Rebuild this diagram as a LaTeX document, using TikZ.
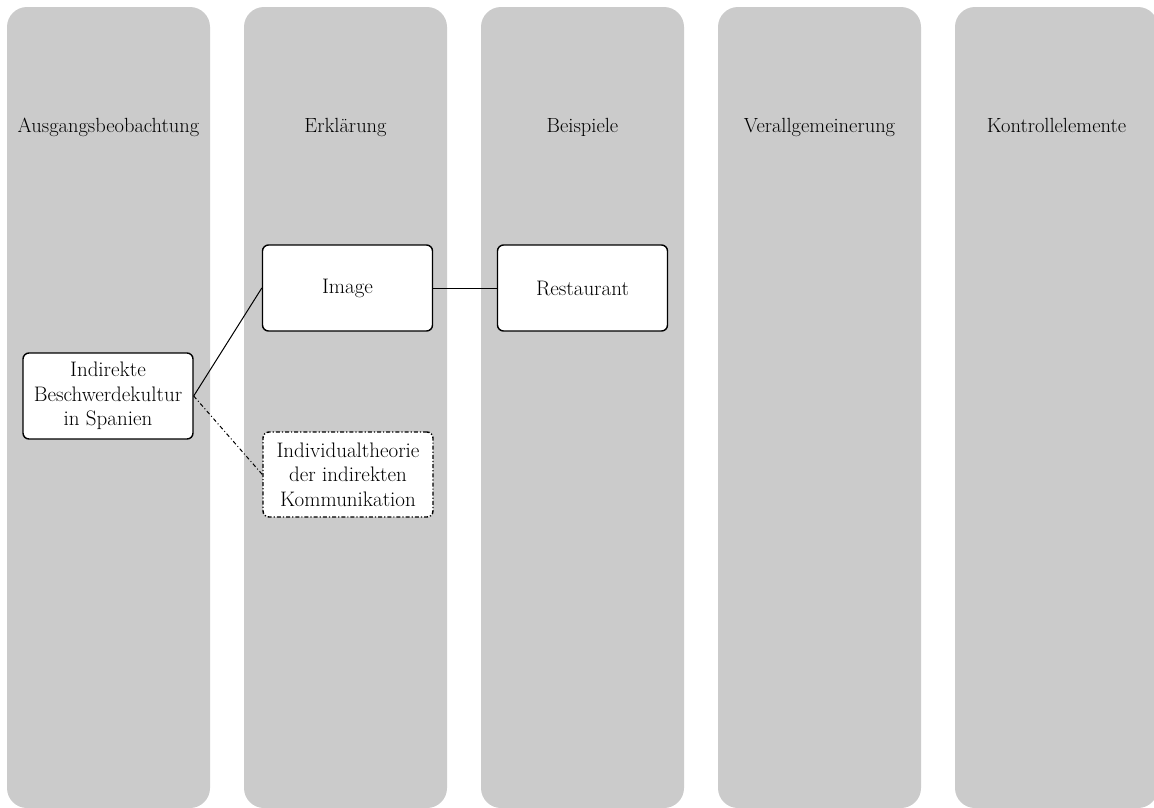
\documentclass[tikz,border=0pt]{standalone}
\usepackage{fontspec}
\begin{document}
\begin{tikzpicture}[x=1pt,y=-1pt,
  lane/.style={fill=lanegrey, rounded corners=20pt},
  lanetitle/.style={anchor=base, font=\fontsize{20.5}{24.5}\selectfont, inner sep=0pt},
  card/.style={draw=black, fill=white, line width=1.4pt, rounded corners=6pt,
    minimum width=170pt, minimum height=86pt, align=center, inner sep=1pt,
    font=\fontsize{21}{24.5}\selectfont},
  tentative/.style={card, dash pattern=on 4pt off 2pt on 1.2pt off 2pt},
  link/.style={draw=black, line width=1pt},
  weaklink/.style={link, dash pattern=on 4pt off 2.5pt on 1pt off 2.5pt}]
\definecolor{lanegrey}{HTML}{CBCBCB}
\useasboundingbox (0,0) rectangle (1154,807);
\clip (0,0) rectangle (1154,807);

% swim lanes
\foreach \x in {7,244,481,718,955}
  \fill[lane] (\x,7) rectangle ++(203,801);

% lane headings
\node[lanetitle] (t1) at (108.5,132) {Ausgangsbeobachtung};
\node[lanetitle] (t2) at (345.5,132) {Erklärung};
\node[lanetitle] (t3) at (582.5,132) {Beispiele};
\node[lanetitle] (t4) at (819.5,132) {Verallgemeinerung};
\node[lanetitle] (t5) at (1056.5,132) {Kontrollelemente};

% cards
\node[card] (obs) at (108,396) {Indirekte\\Beschwerdekultur\\in Spanien};
\node[card] (img) at (347.5,288) {Image};
\node[card] (rest) at (582.5,288) {Restaurant};
\node[tentative, minimum height=85pt] (ind) at (348,474.5) {Individualtheorie\\der indirekten\\Kommunikation};

% connectors
\draw[link] (obs.east) -- (img.west);
\draw[weaklink] (obs.east) -- (ind.west);
\draw[link] (img.east) -- (rest.west);
\end{tikzpicture}
\end{document}
